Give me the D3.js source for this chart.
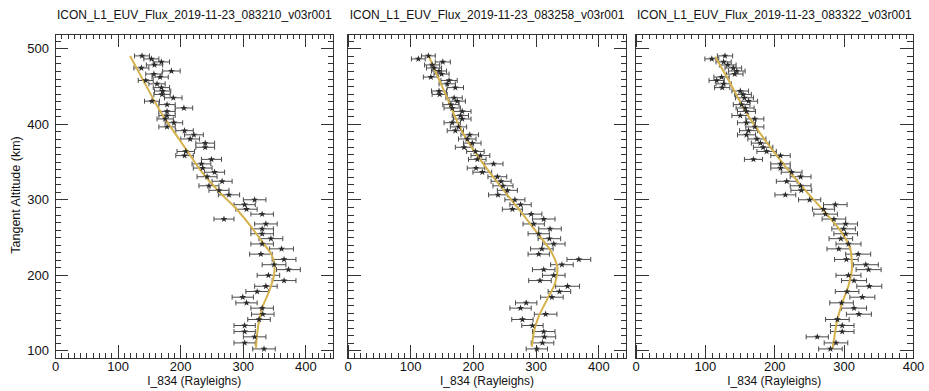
<!DOCTYPE html>
<html>
<head>
<meta charset="utf-8">
<script src="https://cdn.jsdelivr.net/npm/d3@7"></script>
<style>
  body { margin: 0; background: #fff; }
  svg { display: block; font-family: "Liberation Sans", Arial, Helvetica, sans-serif; }
</style>
</head>
<body>
<svg id="chart" width="929" height="391"></svg>
<script>
// tangent altitudes (km), shared by all three scans, bottom to top
const altitudes = [102, 110, 118, 125, 133, 141, 148, 156, 163, 170.5, 178, 185, 192.5, 199.5, 207, 213.5, 220.5,
  227.5, 234.5, 241, 248, 254.5, 261, 267.5, 274, 280.5, 287, 293, 299.5, 306, 312, 318, 324, 330, 336, 341.5,
  347, 353, 358, 363.5, 369, 374.5, 380, 385.5, 391, 396, 401.5, 406.5, 411, 416.5, 421, 425.5, 430, 434.5, 439,
  443.5, 448, 453, 457.5, 462, 466, 470, 474, 478, 482, 486, 490];

const titles = [
  "ICON_L1_EUV_Flux_2019-11-23_083210_v03r001",
  "ICON_L1_EUV_Flux_2019-11-23_083258_v03r001",
  "ICON_L1_EUV_Flux_2019-11-23_083322_v03r001"
];

const xMax = [445, 445, 400];
const xTickLabels = [0, 100, 200, 300, 400];
const yTickLabels = [100, 200, 300, 400, 500];

// I_834 (Rayleighs)
const values1 = [334, 303, 319, 303, 303, 326, 332, 331, 306, 300, 323, 337, 366, 341, 373, 350, 366, 329, 362, 331,
  345, 331, 331, 337, 270, 331, 306, 303, 319, 278, 262, 246, 267, 243, 255, 236, 234, 250, 207, 209, 240, 240, 216,
  222, 207, 179, 190, 176, 179, 179, 206, 179, 155, 189, 171, 172, 170, 163, 145, 168, 158, 186, 138, 159, 170, 154, 139];
const errors1 = [18, 17, 18, 17, 17, 18, 18, 18, 17, 17, 18, 18, 19, 18, 19, 19, 19, 18, 19, 18, 19, 18, 18, 18, 16,
  18, 17, 17, 18, 17, 16, 16, 16, 16, 16, 15, 15, 16, 14, 14, 15, 15, 15, 15, 14, 13, 14, 13, 13, 13, 14, 13, 12, 14,
  13, 13, 13, 13, 12, 13, 13, 14, 12, 13, 13, 12, 12];

const values2 = [302, 311, 314, 313, 295, 279, 316, 276, 285, 326, 338, 351, 307, 329, 313, 342, 369, 305, 310, 329,
  322, 305, 323, 297, 313, 293, 263, 276, 267, 240, 255, 248, 245, 239, 215, 205, 233, 207, 212, 204, 186, 199, 191,
  195, 172, 177, 167, 183, 180, 183, 167, 165, 175, 170, 147, 146, 172, 159, 162, 133, 150, 146, 138, 135, 152, 113, 129];
const errors2 = [17, 18, 18, 18, 17, 17, 18, 17, 17, 18, 18, 19, 18, 18, 18, 18, 19, 17, 18, 18, 18, 17, 18, 17, 18,
  17, 16, 17, 16, 15, 16, 16, 16, 15, 15, 14, 15, 14, 15, 14, 14, 14, 14, 14, 13, 13, 13, 14, 13, 14, 13, 13, 13, 13,
  12, 12, 13, 13, 13, 12, 12, 12, 12, 12, 12, 11, 11];

const values3 = [281, 289, 262, 298, 298, 291, 322, 315, 297, 327, 305, 337, 315, 307, 336, 332, 304, 321, 293, 307,
  296, 303, 300, 303, 286, 274, 271, 288, 251, 216, 239, 238, 218, 238, 225, 209, 209, 170, 209, 189, 184, 180, 175,
  160, 163, 172, 160, 172, 151, 160, 158, 153, 163, 157, 155, 151, 125, 127, 117, 124, 143, 146, 141, 133, 127, 110, 129];
const errors3 = [17, 17, 16, 17, 17, 17, 18, 18, 17, 18, 17, 18, 18, 18, 18, 18, 17, 18, 17, 18, 17, 17, 17, 17, 17,
  17, 16, 17, 16, 15, 15, 15, 15, 15, 15, 14, 14, 13, 14, 14, 14, 13, 13, 13, 13, 13, 13, 13, 12, 13, 13, 12, 13, 13,
  12, 12, 11, 11, 11, 11, 12, 12, 12, 12, 11, 10, 11];

// fitted profiles
const fitAlt1 = [103, 134, 156, 178, 200, 211, 225, 244, 262, 289, 306, 339, 361, 380, 417, 450, 490];
const fitVal1 = [321, 325, 331, 342, 350, 351, 347, 331, 315, 288, 267, 232, 214, 198, 168, 146, 120];
const fitAlt2 = [105, 127, 145, 167, 189, 207, 229, 253, 282, 326, 357, 388, 436, 489];
const fitVal2 = [294, 298, 305, 318, 331, 335, 326, 305, 278, 236, 208, 184, 158, 130];
const fitAlt3 = [103, 114, 141, 163, 189, 211, 233, 255, 282, 317, 361, 410, 458, 489];
const fitVal3 = [284, 286, 291, 298, 308, 312, 310, 298, 274, 240, 201, 163, 134, 115];

const panels = [
  { title: titles[0], values: values1, errors: errors1, fitAlt: fitAlt1, fitVal: fitVal1, xMax: xMax[0], left: 55, width: 278.5 },
  { title: titles[1], values: values2, errors: errors2, fitAlt: fitAlt2, fitVal: fitVal2, xMax: xMax[1], left: 347.5, width: 279 },
  { title: titles[2], values: values3, errors: errors3, fitAlt: fitAlt3, fitVal: fitVal3, xMax: xMax[2], left: 635.5, width: 277.5 }
];

const plotTop = 34, plotBottom = 358;
const svg = d3.select("#chart");
const ink = "#333";

const y = d3.scaleLinear().domain([90, 519]).range([plotBottom, plotTop]);

panels.forEach((p, i) => {
  const x = d3.scaleLinear().domain([0, p.xMax]).range([p.left, p.left + p.width]);
  const g = svg.append("g");

  // title
  g.append("text")
    .attr("x", p.left + p.width / 2)
    .attr("y", 19)
    .attr("text-anchor", "middle")
    .attr("font-size", 12)
    .attr("fill", "#111")
    .text(p.title);

  const minorX = d3.range(0, p.xMax, 10);
  const minorY = d3.range(90, 520, 10);

  // bottom axis, major + minor
  g.append("g").attr("transform", `translate(0,${plotBottom})`)
    .call(d3.axisBottom(x).tickValues(minorX).tickSize(-5).tickFormat(""));
  g.append("g").attr("transform", `translate(0,${plotBottom})`)
    .call(d3.axisBottom(x).tickValues(xTickLabels).tickSize(-13).tickPadding(4).tickFormat(d3.format("d")));
  // top axis
  g.append("g").attr("transform", `translate(0,${plotTop})`)
    .call(d3.axisTop(x).tickValues(minorX).tickSize(-5).tickFormat(""));
  g.append("g").attr("transform", `translate(0,${plotTop})`)
    .call(d3.axisTop(x).tickValues(xTickLabels).tickSize(-13).tickFormat(""));
  // left axis
  g.append("g").attr("transform", `translate(${p.left},0)`)
    .call(d3.axisLeft(y).tickValues(minorY).tickSize(-6).tickFormat(""));
  g.append("g").attr("transform", `translate(${p.left},0)`)
    .call(d3.axisLeft(y).tickValues(yTickLabels).tickSize(-13).tickPadding(6)
      .tickFormat(i === 0 ? d3.format("d") : ""));
  // right axis
  g.append("g").attr("transform", `translate(${p.left + p.width},0)`)
    .call(d3.axisRight(y).tickValues(minorY).tickSize(-6).tickFormat(""));
  g.append("g").attr("transform", `translate(${p.left + p.width},0)`)
    .call(d3.axisRight(y).tickValues(yTickLabels).tickSize(-13).tickFormat(""));

  g.selectAll(".domain").remove();
  g.selectAll(".tick line").attr("stroke", ink).attr("shape-rendering", "crispEdges");
  g.selectAll(".tick text").attr("font-size", 13).attr("fill", "#111")
    .attr("font-family", "'Liberation Sans', Arial, Helvetica, sans-serif");

  // frame
  g.append("rect")
    .attr("x", p.left).attr("y", plotTop)
    .attr("width", p.width).attr("height", plotBottom - plotTop)
    .attr("fill", "none").attr("stroke", ink).attr("shape-rendering", "crispEdges");

  // x title
  g.append("text")
    .attr("x", p.left + p.width / 2)
    .attr("y", 385)
    .attr("text-anchor", "middle")
    .attr("font-size", 12)
    .attr("fill", "#111")
    .text("I_834 (Rayleighs)");

  const pts = altitudes.map((a, k) => ({ alt: a, v: p.values[k], e: p.errors[k] }));

  // error bars
  const eb = g.append("g").attr("stroke", "#4a4a4a").attr("stroke-width", 1).attr("fill", "none");
  eb.selectAll("line.h").data(pts).enter().append("line")
    .attr("x1", d => x(d.v - d.e)).attr("x2", d => x(d.v + d.e))
    .attr("y1", d => y(d.alt)).attr("y2", d => y(d.alt));
  eb.selectAll("line.l").data(pts).enter().append("line")
    .attr("x1", d => x(d.v - d.e)).attr("x2", d => x(d.v - d.e))
    .attr("y1", d => y(d.alt) - 2.5).attr("y2", d => y(d.alt) + 2.5);
  eb.selectAll("line.r").data(pts).enter().append("line")
    .attr("x1", d => x(d.v + d.e)).attr("x2", d => x(d.v + d.e))
    .attr("y1", d => y(d.alt) - 2.5).attr("y2", d => y(d.alt) + 2.5);

  // fit line
  const fit = p.fitAlt.map((a, k) => [p.fitVal[k], a]);
  g.append("path")
    .datum(fit)
    .attr("fill", "none")
    .attr("stroke", "#d6b24c")
    .attr("stroke-width", 2)
    .attr("d", d3.line().x(d => x(d[0])).y(d => y(d[1])).curve(d3.curveMonotoneY));

  // star markers
  g.selectAll("path.star").data(pts).enter().append("path")
    .attr("transform", d => `translate(${x(d.v)},${y(d.alt)})`)
    .attr("d", d3.symbol(d3.symbolStar, 15))
    .attr("fill", "#2a2a2a");
});

// y title
svg.append("text")
  .attr("transform", "translate(20,195) rotate(-90)")
  .attr("text-anchor", "middle")
  .attr("font-size", 12.5)
  .attr("fill", "#111")
  .text("Tangent Altitude (km)");
</script>
</body>
</html>
